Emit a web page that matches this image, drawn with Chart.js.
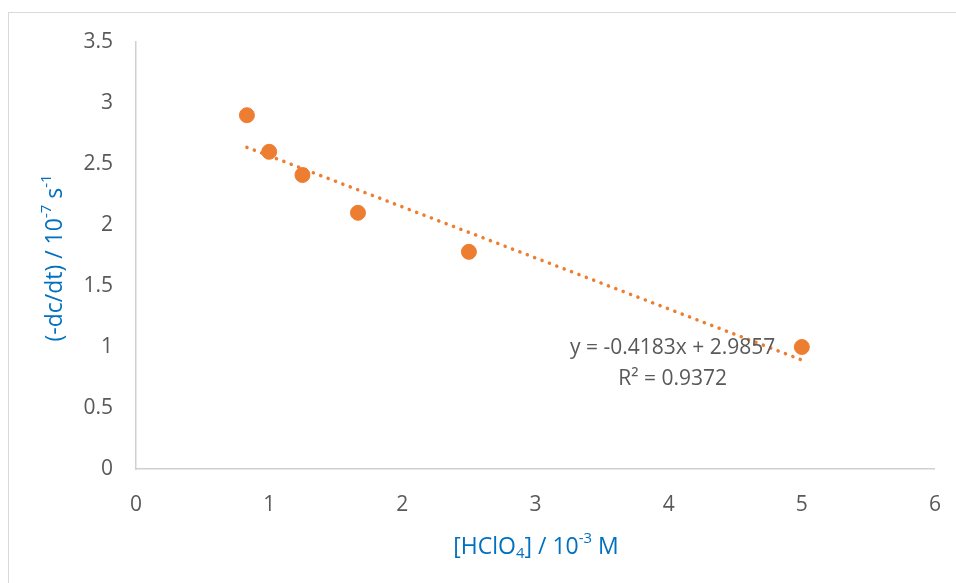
<!DOCTYPE html>
<html>
<head>
<meta charset="utf-8">
<script src="https://cdn.jsdelivr.net/npm/chart.js@4.4.0/dist/chart.umd.min.js"></script>
<style>
  html, body { margin: 0; padding: 0; background: #fff; }
  #wrap { position: relative; width: 956px; height: 583px; overflow: hidden; }
  #frame { position: absolute; left: 8px; top: 12px; width: 1000px; height: 700px; border: 1px solid #D9D9D9; box-sizing: border-box; }
  canvas { position: absolute; left: 0; top: 0; }
</style>
</head>
<body>
<div id="wrap">
  <div id="frame"></div>
  <canvas id="chart" width="956" height="583"></canvas>
</div>
<script>
// data
const acidConc = [0.833, 1, 1.25, 1.667, 2.5, 5];
const rateValues = [2.9, 2.6, 2.41, 2.1, 1.78, 1.0];
const trendX = [0.833, 5];
const trendY = [2.637, 0.894];
const xTicks = [0, 1, 2, 3, 4, 5, 6];
const yTicks = [0, 0.5, 1, 1.5, 2, 2.5, 3, 3.5];
const eqLine1 = "y = -0.4183x + 2.9857";
const eqLine2 = "R² = 0.9372";

const orange = '#ED7D31';
const tickGray = '#595959';
const titleBlue = '#0070C0';
const fontFam = '"Open Sans", Lato, sans-serif';

// draw text made of pieces, some raised or lowered
function drawRich(ctx, parts, size, cx, cy, rotate) {
    ctx.save();
    ctx.translate(cx, cy);
    if (rotate) ctx.rotate(-Math.PI / 2);
    let total = 0;
    parts.forEach(p => {
        ctx.font = (p.s ? size * 0.65 : size) + 'px ' + fontFam;
        total += ctx.measureText(p.t).width;
    });
    let x = -total / 2;
    ctx.textBaseline = 'middle';
    ctx.fillStyle = titleBlue;
    parts.forEach(p => {
        ctx.font = (p.s ? size * 0.65 : size) + 'px ' + fontFam;
        const dy = p.s === 'sup' ? -size * 0.35 : p.s === 'sub' ? size * 0.3 : 0;
        ctx.fillText(p.t, x, dy);
        x += ctx.measureText(p.t).width;
    });
    ctx.restore();
}

const labelsPlugin = {
    id: 'labelsPlugin',
    afterDraw(chart) {
        const ctx = chart.ctx;
        const xs = chart.scales.x, ys = chart.scales.y;
        // trendline equation
        ctx.save();
        ctx.fillStyle = tickGray;
        ctx.font = '21px ' + fontFam;
        ctx.textAlign = 'center';
        ctx.textBaseline = 'middle';
        const ex = xs.getPixelForValue(4.03);
        ctx.fillText(eqLine1, ex, ys.getPixelForValue(0.99));
        ctx.fillText(eqLine2, ex, ys.getPixelForValue(0.74));
        ctx.restore();
        // axis titles
        drawRich(ctx, [
            {t: '[HClO'}, {t: '4', s: 'sub'}, {t: '] / 10'}, {t: '-3', s: 'sup'}, {t: ' M'}
        ], 23, 536, 547, false);
        drawRich(ctx, [
            {t: '(-dc/dt) / 10'}, {t: '-7', s: 'sup'}, {t: ' s'}, {t: '-1', s: 'sup'}
        ], 23, 55, 258, true);
    }
};

new Chart(document.getElementById('chart'), {
    type: 'scatter',
    data: {
        datasets: [{
            label: 'rate',
            data: acidConc.map((x, i) => ({x: x, y: rateValues[i]})),
            backgroundColor: orange,
            borderColor: orange,
            pointRadius: 7.5,
            pointHoverRadius: 7.5,
            order: 1
        }, {
            label: 'trend',
            type: 'line',
            data: trendX.map((x, i) => ({x: x, y: trendY[i]})),
            borderColor: orange,
            borderWidth: 3.5,
            borderDash: [0.1, 7.8],
            borderCapStyle: 'round',
            pointRadius: 0,
            fill: false,
            order: 2
        }]
    },
    options: {
        responsive: false,
        animation: false,
        events: [],
        layout: { padding: { top: 42, right: 18, left: 0, bottom: 0 } },
        plugins: { legend: { display: false }, tooltip: { enabled: false } },
        scales: {
            x: {
                type: 'linear',
                min: 0, max: 6,
                afterFit: s => { s.height = 114; },
                afterBuildTicks: s => { s.ticks = xTicks.map(v => ({value: v})); },
                grid: { display: false },
                border: { display: true, color: '#D0D0D0', width: 1.5 },
                ticks: { color: tickGray, font: { family: fontFam, size: 21 }, padding: 15, callback: v => String(v) }
            },
            y: {
                type: 'linear',
                min: 0, max: 3.5,
                afterFit: s => { s.width = 136; },
                afterBuildTicks: s => { s.ticks = yTicks.map(v => ({value: v})); },
                grid: { display: false },
                border: { display: true, color: '#D0D0D0', width: 1.5 },
                ticks: { color: tickGray, font: { family: fontFam, size: 21 }, padding: 15, callback: v => String(v) }
            }
        }
    },
    plugins: [labelsPlugin]
});
</script>
</body>
</html>
